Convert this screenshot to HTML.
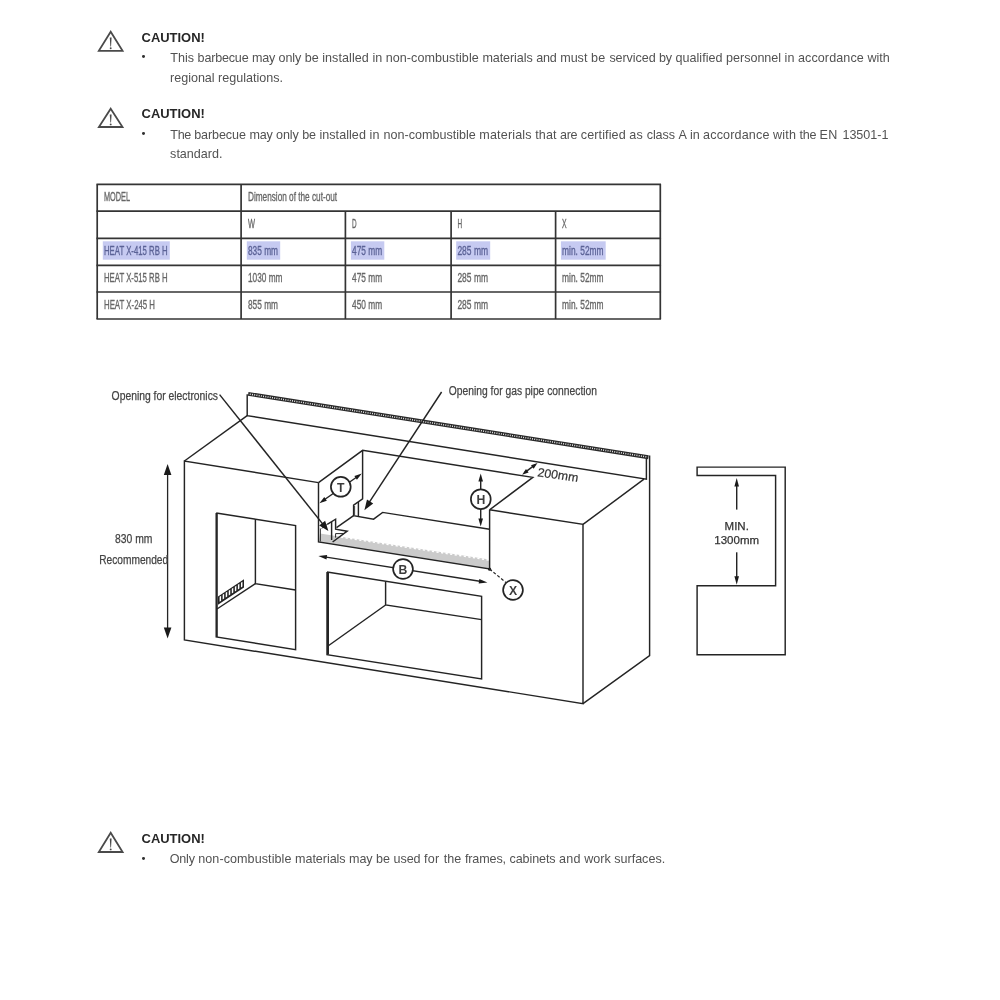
<!DOCTYPE html>
<html><head><meta charset="utf-8"><title>Installation</title>
<style>
html,body{margin:0;padding:0;background:#fff;}
body{width:1000px;height:1000px;position:relative;overflow:hidden;font-family:"Liberation Sans",sans-serif;}
#pg{position:absolute;left:0;top:0;width:1000px;height:1000px;will-change:transform;}
.abs{position:absolute;}
.t{position:absolute;white-space:nowrap;font-size:12.575px;line-height:14px;color:#525252;}
.t.b{font-weight:bold;color:#262626;}
</style></head><body><div id="pg">
<svg class="abs" style="left:90px;top:25.90px" width="44" height="34" viewBox="90 25.90 44 34">
<path d="M110.7 31.61 L122.58 50.80 L98.82 50.80 Z" fill="none" stroke="#4a4a4a" stroke-width="1.8" stroke-linejoin="miter"/>
<path d="M109.8 37.40 L111.60000000000001 37.40 L111.05 46.30 L110.35000000000001 46.30 Z" fill="#4a4a4a"/>
<circle cx="110.7" cy="48.20" r="0.95" fill="#4a4a4a"/>
</svg>
<div class="t b" style="left:141.6px;top:31.40px;font-size:12.95px">CAUTION!</div>
<div class="abs" style="left:142.1px;top:55.46px;width:3.2px;height:3px;background:#2e2e2e;border-radius:50%"></div>
<span class="t" style="left:170.30px;top:50.66px;letter-spacing:0.012px">This</span>
<span class="t" style="left:197.60px;top:50.66px;letter-spacing:-0.191px">barbecue</span>
<span class="t" style="left:252.00px;top:50.66px;letter-spacing:-0.217px">may</span>
<span class="t" style="left:278.60px;top:50.66px;letter-spacing:-0.116px">only</span>
<span class="t" style="left:304.70px;top:50.66px;letter-spacing:0.009px">be</span>
<span class="t" style="left:322.20px;top:50.66px;letter-spacing:0.063px">installed</span>
<span class="t" style="left:372.40px;top:50.66px;letter-spacing:0.009px">in</span>
<span class="t" style="left:385.70px;top:50.66px;letter-spacing:0.063px">non-combustible</span>
<span class="t" style="left:482.40px;top:50.66px;letter-spacing:-0.078px">materials</span>
<span class="t" style="left:536.20px;top:50.66px;letter-spacing:-0.158px">and</span>
<span class="t" style="left:560.20px;top:50.66px;letter-spacing:-0.011px">must</span>
<span class="t" style="left:590.90px;top:50.66px;letter-spacing:0.300px">be</span>
<span class="t" style="left:609.40px;top:50.66px;letter-spacing:-0.077px">serviced</span>
<span class="t" style="left:659.10px;top:50.66px;letter-spacing:-0.237px">by</span>
<span class="t" style="left:675.40px;top:50.66px;letter-spacing:0.040px">qualified</span>
<span class="t" style="left:726.10px;top:50.66px;letter-spacing:-0.025px">personnel</span>
<span class="t" style="left:784.60px;top:50.66px;letter-spacing:0.009px">in</span>
<span class="t" style="left:797.90px;top:50.66px;letter-spacing:0.109px">accordance</span>
<span class="t" style="left:867.50px;top:50.66px;letter-spacing:0.000px">with</span>
<span class="t" style="left:170.10px;top:70.66px;letter-spacing:-0.030px">regional</span>
<span class="t" style="left:218.10px;top:70.66px;letter-spacing:0.000px">regulations.</span>
<svg class="abs" style="left:90px;top:102.80px" width="44" height="34" viewBox="90 102.80 44 34">
<path d="M110.7 108.51 L122.51 126.80 L98.89 126.80 Z" fill="none" stroke="#4a4a4a" stroke-width="1.8" stroke-linejoin="miter"/>
<path d="M109.8 114.30 L111.60000000000001 114.30 L111.05 122.30 L110.35000000000001 122.30 Z" fill="#4a4a4a"/>
<circle cx="110.7" cy="124.20" r="0.95" fill="#4a4a4a"/>
</svg>
<div class="t b" style="left:141.6px;top:107.40px;font-size:12.95px">CAUTION!</div>
<div class="abs" style="left:142.1px;top:132.34px;width:3.2px;height:3px;background:#2e2e2e;border-radius:50%"></div>
<span class="t" style="left:170.30px;top:127.54px;letter-spacing:-0.300px">The</span>
<span class="t" style="left:194.20px;top:127.54px;letter-spacing:-0.091px">barbecue</span>
<span class="t" style="left:249.40px;top:127.54px;letter-spacing:-0.217px">may</span>
<span class="t" style="left:276.00px;top:127.54px;letter-spacing:-0.091px">only</span>
<span class="t" style="left:302.20px;top:127.54px;letter-spacing:-0.141px">be</span>
<span class="t" style="left:319.40px;top:127.54px;letter-spacing:0.052px">installed</span>
<span class="t" style="left:369.50px;top:127.54px;letter-spacing:0.300px">in</span>
<span class="t" style="left:383.50px;top:127.54px;letter-spacing:0.003px">non-combustible</span>
<span class="t" style="left:479.30px;top:127.54px;letter-spacing:0.166px">materials</span>
<span class="t" style="left:535.30px;top:127.54px;letter-spacing:0.058px">that</span>
<span class="t" style="left:560.00px;top:127.54px;letter-spacing:-0.290px">are</span>
<span class="t" style="left:580.80px;top:127.54px;letter-spacing:0.108px">certified</span>
<span class="t" style="left:629.30px;top:127.54px;letter-spacing:0.300px">as</span>
<span class="t" style="left:646.70px;top:127.54px;letter-spacing:-0.089px">class</span>
<span class="t" style="left:678.40px;top:127.54px;letter-spacing:0.300px">A</span>
<span class="t" style="left:690.10px;top:127.54px;letter-spacing:-0.141px">in</span>
<span class="t" style="left:703.10px;top:127.54px;letter-spacing:0.149px">accordance</span>
<span class="t" style="left:773.10px;top:127.54px;letter-spacing:0.161px">with</span>
<span class="t" style="left:799.60px;top:127.54px;letter-spacing:-0.300px">the</span>
<span class="t" style="left:819.50px;top:127.54px;letter-spacing:0.300px">EN</span>
<span class="t" style="left:842.40px;top:127.54px;letter-spacing:0.000px">13501-1</span>
<span class="t" style="left:170.10px;top:146.66px;letter-spacing:0.000px">standard.</span>
<svg class="abs" style="left:0;top:0" width="1000" height="1000" viewBox="0 0 1000 1000">
<g stroke="#343434" stroke-width="1.7" fill="none">
<path d="M96.45 184.4 H661.05"/>
<path d="M96.45 211.1 H661.05"/>
<path d="M96.45 238.4 H661.05"/>
<path d="M96.45 265.4 H661.05"/>
<path d="M96.45 292.0 H661.05"/>
<path d="M96.45 319.0 H661.05"/>
<path d="M97.2 184.4 V319.0"/>
<path d="M241.1 184.4 V319.0"/>
<path d="M660.3 184.4 V319.0"/>
<path d="M345.4 211.1 V319.0"/>
<path d="M451.1 211.1 V319.0"/>
<path d="M555.6 211.1 V319.0"/>
</g></svg>
<svg class="abs" style="left:0;top:0" width="1000" height="340" viewBox="0 0 1000 340" font-family="Liberation Sans, sans-serif" font-size="13.5" stroke-width="0.35">
<text x="104" y="200.80" textLength="26.1" lengthAdjust="spacingAndGlyphs" fill="#666" stroke="#666">MODEL</text>
<text x="248" y="200.80" textLength="89.1" lengthAdjust="spacingAndGlyphs" fill="#666" stroke="#666">Dimension of the cut-out</text>
<text x="248" y="227.80" textLength="7" lengthAdjust="spacingAndGlyphs" fill="#666" stroke="#666">W</text>
<text x="352.1" y="227.80" textLength="4.6" lengthAdjust="spacingAndGlyphs" fill="#666" stroke="#666">D</text>
<text x="457.4" y="227.80" textLength="4.6" lengthAdjust="spacingAndGlyphs" fill="#666" stroke="#666">H</text>
<text x="562.1" y="227.80" textLength="4.6" lengthAdjust="spacingAndGlyphs" fill="#666" stroke="#666">X</text>
<rect x="102.8" y="241.3" width="67.0" height="18.4" fill="#c6caf1"/>
<text x="104" y="254.80" textLength="63.6" lengthAdjust="spacingAndGlyphs" fill="#5b6296" stroke="#5b6296">HEAT X-415 RB H</text>
<rect x="246.8" y="241.3" width="33.4" height="18.4" fill="#c6caf1"/>
<text x="248" y="254.80" textLength="30" lengthAdjust="spacingAndGlyphs" fill="#5b6296" stroke="#5b6296">835 mm</text>
<rect x="350.90000000000003" y="241.3" width="33.4" height="18.4" fill="#c6caf1"/>
<text x="352.1" y="254.80" textLength="30" lengthAdjust="spacingAndGlyphs" fill="#5b6296" stroke="#5b6296">475 mm</text>
<rect x="456.2" y="241.3" width="34.0" height="18.4" fill="#c6caf1"/>
<text x="457.4" y="254.80" textLength="30.6" lengthAdjust="spacingAndGlyphs" fill="#5b6296" stroke="#5b6296">285 mm</text>
<rect x="560.9" y="241.3" width="44.8" height="18.4" fill="#c6caf1"/>
<text x="562.1" y="254.80" textLength="41.4" lengthAdjust="spacingAndGlyphs" fill="#5b6296" stroke="#5b6296">min. 52mm</text>
<text x="104" y="281.80" textLength="63.6" lengthAdjust="spacingAndGlyphs" fill="#666" stroke="#666">HEAT X-515 RB H</text>
<text x="248" y="281.80" textLength="34.5" lengthAdjust="spacingAndGlyphs" fill="#666" stroke="#666">1030 mm</text>
<text x="352.1" y="281.80" textLength="30" lengthAdjust="spacingAndGlyphs" fill="#666" stroke="#666">475 mm</text>
<text x="457.4" y="281.80" textLength="30.6" lengthAdjust="spacingAndGlyphs" fill="#666" stroke="#666">285 mm</text>
<text x="562.1" y="281.80" textLength="41.4" lengthAdjust="spacingAndGlyphs" fill="#666" stroke="#666">min. 52mm</text>
<text x="104" y="308.80" textLength="51" lengthAdjust="spacingAndGlyphs" fill="#666" stroke="#666">HEAT X-245 H</text>
<text x="248" y="308.80" textLength="30" lengthAdjust="spacingAndGlyphs" fill="#666" stroke="#666">855 mm</text>
<text x="352.1" y="308.80" textLength="30" lengthAdjust="spacingAndGlyphs" fill="#666" stroke="#666">450 mm</text>
<text x="457.4" y="308.80" textLength="30.6" lengthAdjust="spacingAndGlyphs" fill="#666" stroke="#666">285 mm</text>
<text x="562.1" y="308.80" textLength="41.4" lengthAdjust="spacingAndGlyphs" fill="#666" stroke="#666">min. 52mm</text>
</svg>
<svg class="abs" style="left:0;top:370px" width="1000" height="360" viewBox="0 370 1000 360" font-family="Liberation Sans, sans-serif">
<polygon points="320,533.4 489.4,559.6 489.6,569 318.6,542" fill="#cbcbcb"/>
<path d="M318.5 482.6 L184.4 461.0 L184.4 640.0 L583.0 703.6 L583.0 524.4 L489.6 509.8" fill="none" stroke="#242424" stroke-width="1.45" stroke-linejoin="miter" stroke-linecap="butt" />
<path d="M318.5 482.6 L318.5 542.0 L489.6 569.0 L489.6 509.8" fill="none" stroke="#242424" stroke-width="1.45" stroke-linejoin="miter" stroke-linecap="butt" />
<path d="M184.4 461.0 L247.2 415.6" fill="none" stroke="#242424" stroke-width="1.45" stroke-linejoin="miter" stroke-linecap="butt" />
<path d="M247.2 394.2 L247.2 415.6 L646.4 479.2 L646.4 457.6" fill="none" stroke="#242424" stroke-width="1.45" stroke-linejoin="miter" stroke-linecap="butt" />
<path d="M248.2 393.9 L648.4 457.2" stroke="#2a2a2a" stroke-width="3.9" fill="none"/>
<path d="M249.8 394.15 L647.2 457.0" stroke="#f4f4f4" stroke-width="1.5" fill="none" stroke-dasharray="0.9 1.35"/>
<path d="M644.0 479.2 L583.0 524.4" fill="none" stroke="#242424" stroke-width="1.45" stroke-linejoin="miter" stroke-linecap="butt" />
<path d="M583.0 703.6 L649.6 655.6 L649.6 455.4" fill="none" stroke="#242424" stroke-width="1.45" stroke-linejoin="miter" stroke-linecap="butt" />
<path d="M318.5 482.6 L362.6 450.3 L532.8 477.4 L489.6 509.8" fill="none" stroke="#242424" stroke-width="1.45" stroke-linejoin="miter" stroke-linecap="butt" />
<path d="M362.6 450.3 L362.6 498.8 L353.6 505.2 L353.6 515.6 L373.6 519.2 L382.6 512.4 L489.6 529.2" fill="none" stroke="#242424" stroke-width="1.45" stroke-linejoin="miter" stroke-linecap="butt" />
<path d="M354.6 506.0 L354.6 515.0" fill="none" stroke="#242424" stroke-width="0.8" stroke-linejoin="miter" stroke-linecap="butt" />
<path d="M358.4 502.0 L358.4 516.6" fill="none" stroke="#242424" stroke-width="1.45" stroke-linejoin="miter" stroke-linecap="butt" />
<path d="M353.6 515.6 L336.5 527.6" fill="none" stroke="#242424" stroke-width="1.45" stroke-linejoin="miter" stroke-linecap="butt" />
<path d="M341 537.1 L489.4 560.1" stroke="#fff" stroke-width="1.5" fill="none" stroke-dasharray="2.2 2.4"/>
<path d="M327.2 524.4 L335.6 519.2 L335.6 529.2 L347.2 531.2 L332.6 542.0" fill="none" stroke="#242424" stroke-width="1.45" stroke-linejoin="miter" stroke-linecap="butt" />
<path d="M331.6 522.0 L331.6 540.0" fill="none" stroke="#242424" stroke-width="1.45" stroke-linejoin="miter" stroke-linecap="butt" />
<path d="M335.6 533.6 L343.8 533.6" fill="none" stroke="#242424" stroke-width="1.0" stroke-linejoin="miter" stroke-linecap="butt" />
<path d="M335.6 533.6 L335.6 537.6" fill="none" stroke="#242424" stroke-width="1.0" stroke-linejoin="miter" stroke-linecap="butt" />
<path d="M320.4 528.5 L320.4 541.5" fill="none" stroke="#242424" stroke-width="0.9" stroke-linejoin="miter" stroke-linecap="butt" />
<path d="M321.6 528.4 L327.2 524.4" fill="none" stroke="#242424" stroke-width="0.9" stroke-linejoin="miter" stroke-linecap="butt" />
<path d="M216.2 513.0 L295.6 525.6 L295.6 649.6 L216.2 637.0 L216.2 513.0" fill="none" stroke="#242424" stroke-width="1.45" stroke-linejoin="miter" stroke-linecap="butt" />
<path d="M217.0 513.0 L217.0 637.0" fill="none" stroke="#242424" stroke-width="1.6" stroke-linejoin="miter" stroke-linecap="butt" />
<path d="M255.4 519.2 L255.4 583.6 L295.6 590.0" fill="none" stroke="#242424" stroke-width="1.45" stroke-linejoin="miter" stroke-linecap="butt" />
<path d="M255.4 583.6 L217.0 609.0" fill="none" stroke="#242424" stroke-width="1.45" stroke-linejoin="miter" stroke-linecap="butt" />
<polygon points="218,596.4 244,579.2 244,587.6 218,604.8" fill="#222"/>
<polygon points="219.60,596.84 221.10,595.84 221.10,600.64 219.60,601.64" fill="#fff"/>
<polygon points="222.65,594.82 224.15,593.82 224.15,598.62 222.65,599.62" fill="#fff"/>
<polygon points="225.70,592.81 227.20,591.81 227.20,596.61 225.70,597.61" fill="#fff"/>
<polygon points="228.75,590.79 230.25,589.79 230.25,594.59 228.75,595.59" fill="#fff"/>
<polygon points="231.80,588.77 233.30,587.77 233.30,592.57 231.80,593.57" fill="#fff"/>
<polygon points="234.85,586.75 236.35,585.75 236.35,590.55 234.85,591.55" fill="#fff"/>
<polygon points="237.90,584.74 239.40,583.74 239.40,588.54 237.90,589.54" fill="#fff"/>
<polygon points="240.95,582.72 242.45,581.72 242.45,586.52 240.95,587.52" fill="#fff"/>
<path d="M327.0 572.0 L481.6 596.4 L481.6 679.0 L327.0 654.6 L327.0 572.0" fill="none" stroke="#242424" stroke-width="1.45" stroke-linejoin="miter" stroke-linecap="butt" />
<path d="M328.0 572.0 L328.0 654.6" fill="none" stroke="#242424" stroke-width="2.0" stroke-linejoin="miter" stroke-linecap="butt" />
<path d="M385.6 581.4 L385.6 605.0 L481.6 619.6" fill="none" stroke="#242424" stroke-width="1.45" stroke-linejoin="miter" stroke-linecap="butt" />
<path d="M385.6 605.0 L328.0 646.0" fill="none" stroke="#242424" stroke-width="1.45" stroke-linejoin="miter" stroke-linecap="butt" />
<path d="M167.6 470.0 L167.6 632.0" fill="none" stroke="#242424" stroke-width="1.3" stroke-linejoin="miter" stroke-linecap="butt" />
<polygon points="167.6,464.0 171.4,475.0 163.8,475.0" fill="#1a1a1a"/>
<polygon points="167.6,638.4 163.8,627.4 171.4,627.4" fill="#1a1a1a"/>
<text x="115" y="543" font-size="12.5" text-anchor="start" fill="#444" textLength="37.4" lengthAdjust="spacingAndGlyphs" stroke="#444" stroke-width="0.25">830 mm</text>
<text x="99.2" y="563.6" font-size="12.5" text-anchor="start" fill="#444" textLength="69" lengthAdjust="spacingAndGlyphs" stroke="#444" stroke-width="0.25">Recommended</text>
<text x="111.6" y="400.4" font-size="12.5" text-anchor="start" fill="#444" textLength="106.4" lengthAdjust="spacingAndGlyphs" stroke="#444" stroke-width="0.25">Opening for electronics</text>
<path d="M219.6 394.6 L325.6 527.6" fill="none" stroke="#242424" stroke-width="1.45" stroke-linejoin="miter" stroke-linecap="butt" />
<polygon points="328.4,531.0 319.2,525.6 325.1,520.8" fill="#1a1a1a"/>
<text x="448.8" y="394.8" font-size="12.5" text-anchor="start" fill="#444" textLength="148.2" lengthAdjust="spacingAndGlyphs" stroke="#444" stroke-width="0.25">Opening for gas pipe connection</text>
<path d="M441.6 392.0 L366.4 506.6" fill="none" stroke="#242424" stroke-width="1.45" stroke-linejoin="miter" stroke-linecap="butt" />
<polygon points="364.4,510.2 367.0,499.4 373.2,503.4" fill="#1a1a1a"/>
<path d="M322.5 501.0 L359.0 475.5" fill="none" stroke="#242424" stroke-width="1.45" stroke-linejoin="miter" stroke-linecap="butt" />
<polygon points="319.4,503.2 324.3,497.1 326.8,500.7" fill="#1a1a1a"/>
<polygon points="361.8,473.6 356.9,479.7 354.4,476.1" fill="#1a1a1a"/>
<circle cx="340.8" cy="486.8" r="9.9" fill="#fff" stroke="#242424" stroke-width="1.7"/>
<text transform="translate(340.8,491.63) scale(0.9,1)" font-size="13.6" font-weight="bold" text-anchor="middle" fill="#3c3c3c">T</text>
<path d="M480.7 478.0 L480.7 522.0" fill="none" stroke="#242424" stroke-width="1.45" stroke-linejoin="miter" stroke-linecap="butt" />
<polygon points="480.7,473.6 483.0,481.6 478.4,481.6" fill="#1a1a1a"/>
<polygon points="480.7,526.5 478.4,518.5 483.0,518.5" fill="#1a1a1a"/>
<circle cx="480.8" cy="499.2" r="9.9" fill="#fff" stroke="#242424" stroke-width="1.7"/>
<text transform="translate(480.8,504.03) scale(0.9,1)" font-size="13.6" font-weight="bold" text-anchor="middle" fill="#3c3c3c">H</text>
<path d="M323.0 556.6 L483.0 581.8" fill="none" stroke="#242424" stroke-width="1.45" stroke-linejoin="miter" stroke-linecap="butt" />
<polygon points="318.4,555.9 327.1,555.0 326.5,559.4" fill="#1a1a1a"/>
<polygon points="487.4,582.5 478.7,583.4 479.3,579.0" fill="#1a1a1a"/>
<circle cx="403" cy="569" r="9.9" fill="#fff" stroke="#242424" stroke-width="1.7"/>
<text transform="translate(403,573.83) scale(0.9,1)" font-size="13.6" font-weight="bold" text-anchor="middle" fill="#3c3c3c">B</text>
<path d="M489.6 569.0 L506.0 582.6" fill="none" stroke="#242424" stroke-width="1.2" stroke-linejoin="miter" stroke-linecap="butt" stroke-dasharray="3 2"/>
<circle cx="489.6" cy="569.2" r="1.6" fill="#222"/>
<circle cx="513" cy="590" r="9.9" fill="#fff" stroke="#242424" stroke-width="1.7"/>
<text transform="translate(513,594.83) scale(0.9,1)" font-size="13.6" font-weight="bold" text-anchor="middle" fill="#3c3c3c">X</text>
<path d="M524.6 472.6 L535.0 464.8" fill="none" stroke="#242424" stroke-width="1.45" stroke-linejoin="miter" stroke-linecap="butt" />
<polygon points="522.1,474.7 526.0,469.1 528.6,472.5" fill="#1a1a1a"/>
<polygon points="537.5,463.1 533.6,468.7 531.0,465.3" fill="#1a1a1a"/>
<text font-size="12.3" fill="#333" stroke="#333" stroke-width="0.2" transform="translate(537,476.2) rotate(8) skewX(-2)">200mm</text>
<path d="M697.1 467.1 L785.2 467.1 L785.2 654.8 L697.1 654.8 L697.1 585.7 L775.6 585.7 L775.6 475.5 L697.1 475.5 L697.1 466.5" fill="none" stroke="#242424" stroke-width="1.45" stroke-linejoin="miter" stroke-linecap="butt" />
<path d="M736.7 484.0 L736.7 509.6" fill="none" stroke="#242424" stroke-width="1.45" stroke-linejoin="miter" stroke-linecap="butt" />
<path d="M736.7 552.3 L736.7 579.0" fill="none" stroke="#242424" stroke-width="1.45" stroke-linejoin="miter" stroke-linecap="butt" />
<polygon points="736.7,478.0 739.0,486.5 734.4,486.5" fill="#1a1a1a"/>
<polygon points="736.7,584.8 734.4,576.3 739.0,576.3" fill="#1a1a1a"/>
<text x="736.7" y="530.4" font-size="11.5" text-anchor="middle" fill="#333" stroke="#333" stroke-width="0.25">MIN.</text>
<text x="736.7" y="544.4" font-size="11.5" text-anchor="middle" fill="#333" stroke="#333" stroke-width="0.25">1300mm</text>
</svg>
<svg class="abs" style="left:90px;top:827.00px" width="44" height="34" viewBox="90 827.00 44 34">
<path d="M110.7 832.71 L122.59 852.00 L98.81 852.00 Z" fill="none" stroke="#4a4a4a" stroke-width="1.8" stroke-linejoin="miter"/>
<path d="M109.8 838.50 L111.60000000000001 838.50 L111.05 847.50 L110.35000000000001 847.50 Z" fill="#4a4a4a"/>
<circle cx="110.7" cy="849.40" r="0.95" fill="#4a4a4a"/>
</svg>
<div class="t b" style="left:141.6px;top:831.85px;font-size:12.95px">CAUTION!</div>
<div class="abs" style="left:142.1px;top:856.90px;width:3.2px;height:3px;background:#2e2e2e;border-radius:50%"></div>
<span class="t" style="left:169.80px;top:852.10px;letter-spacing:-0.237px">Only</span>
<span class="t" style="left:198.20px;top:852.10px;letter-spacing:0.076px">non-combustible</span>
<span class="t" style="left:295.10px;top:852.10px;letter-spacing:-0.056px">materials</span>
<span class="t" style="left:349.10px;top:852.10px;letter-spacing:-0.150px">may</span>
<span class="t" style="left:375.90px;top:852.10px;letter-spacing:0.059px">be</span>
<span class="t" style="left:393.50px;top:852.10px;letter-spacing:-0.066px">used</span>
<span class="t" style="left:424.00px;top:852.10px;letter-spacing:0.300px">for</span>
<span class="t" style="left:443.70px;top:852.10px;letter-spacing:0.075px">the</span>
<span class="t" style="left:464.90px;top:852.10px;letter-spacing:-0.117px">frames,</span>
<span class="t" style="left:509.50px;top:852.10px;letter-spacing:-0.104px">cabinets</span>
<span class="t" style="left:559.00px;top:852.10px;letter-spacing:0.242px">and</span>
<span class="t" style="left:584.20px;top:852.10px;letter-spacing:-0.011px">work</span>
<span class="t" style="left:614.20px;top:852.10px;letter-spacing:0.000px">surfaces.</span>
</div></body></html>
